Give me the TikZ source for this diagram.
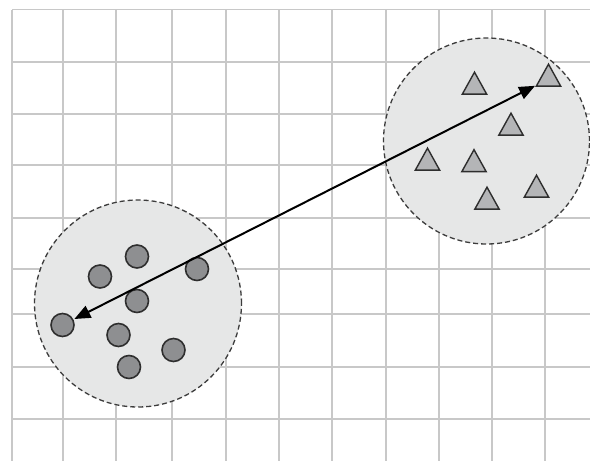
\documentclass[tikz,border=0pt]{standalone}
\usetikzlibrary{shapes.geometric,arrows.meta}
\definecolor{gridgray}{HTML}{C8C8C8}
\definecolor{zonefill}{HTML}{E6E7E7}
\definecolor{zoneedge}{HTML}{3C3C3C}
\definecolor{dotfill}{HTML}{8E8F91}
\definecolor{trifill}{HTML}{B4B5B7}
\definecolor{inkdark}{HTML}{2E2E2E}
\begin{document}
\begin{tikzpicture}[x=1pt,y=-1pt,
  gridline/.style={draw=gridgray,line width=1.7pt},
  zone/.style={circle,draw=zoneedge,fill=zonefill,line width=1.3pt,
    dash pattern=on 5pt off 3pt,minimum size=#1,inner sep=0pt},
  dotpt/.style={circle,draw=inkdark,fill=dotfill,line width=1.6pt,
    minimum size=23pt,inner sep=0pt},
  tript/.style={isosceles triangle,isosceles triangle apex angle=58,
    shape border rotate=90,draw=inkdark,fill=trifill,line width=1.4pt,
    minimum height=22pt,minimum width=24pt,inner sep=0pt},
  link/.style={draw=black,line width=2pt,
    {Triangle[length=16pt,width=13pt]}-{Triangle[length=16pt,width=13pt]},
    shorten <=1pt,shorten >=1pt}]
  \useasboundingbox (0,0) rectangle (590,461);
  \fill[white] (0,0) rectangle (590,461);

  % background grid
  \foreach \gx in {12,63,116,172,226,279,332,386,439,492,545}
    \draw[gridline] (\gx,9.5) -- (\gx,461);
  \foreach \gy in {9.5,62,114,165,218,269,314,367,419}
    \draw[gridline] (12,\gy) -- (590,\gy);

  % the two clusters
  \node[zone=207pt] (zoneA) at (138,303.5) {};
  \node[zone=206pt] (zoneB) at (486.5,141) {};

  % circles of cluster A
  \node[dotpt] (a1) at (137,256.5) {};
  \node[dotpt] (a2) at (100,276.5) {};
  \node[dotpt] (a3) at (197,269) {};
  \node[dotpt] (a4) at (137,301) {};
  \node[dotpt] (a5) at (62.5,325) {};
  \node[dotpt] (a6) at (118.5,335) {};
  \node[dotpt] (a7) at (173.5,350) {};
  \node[dotpt] (a8) at (129,367) {};

  % triangles of cluster B
  \node[tript] (b1) at (474.5,87) {};
  \node[tript] (b2) at (548.5,79) {};
  \node[tript] (b3) at (511,128) {};
  \node[tript] (b4) at (427.5,163) {};
  \node[tript] (b5) at (474,164.5) {};
  \node[tript] (b6) at (536.5,190) {};
  \node[tript] (b7) at (487,202) {};

  % distance between the two clusters
  \draw[link] (a5) -- (b2);
\end{tikzpicture}
\end{document}
